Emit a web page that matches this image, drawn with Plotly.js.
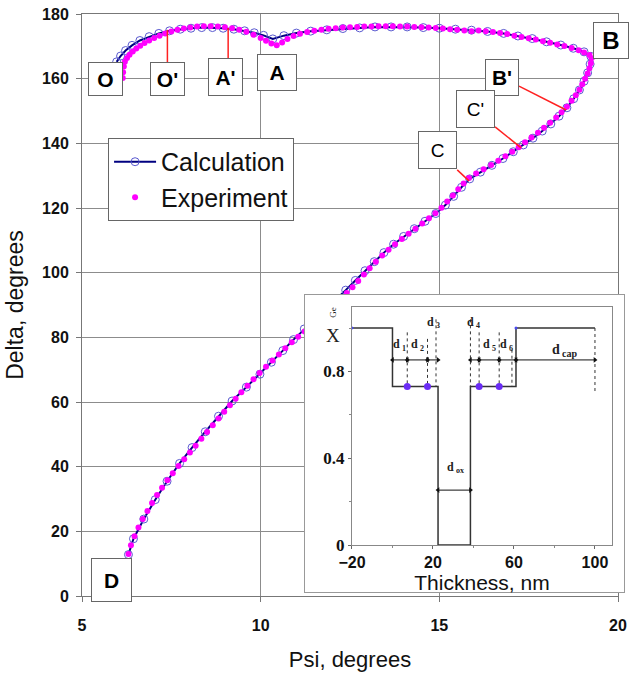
<!DOCTYPE html>
<html>
<head>
<meta charset="utf-8">
<script src="https://cdn.plot.ly/plotly-3.0.1.min.js"></script>
<style>html,body{margin:0;padding:0;background:#fff;}#chart{width:630px;height:675px;}</style>
</head>
<body>
<div id="chart"></div>
<script>
// ---- Main chart data (Psi, Delta in degrees) ----
const psiCalc = [5.97,6.08,6.22,6.40,6.62,6.88,7.15,7.45,7.75,8.05,8.35,8.65,8.95,9.25,9.55,9.82,10.08,10.34,10.65,11.0,11.4,11.85,12.3,12.77,13.2,13.65,14.1,14.55,15.0,15.45,15.9,16.35,16.8,17.2,17.6,18.0,18.4,18.75,19.05,19.24,19.22,19.15,19.05,18.92,18.76,18.57,18.35,18.12,17.88,17.62,17.35,17.07,16.78,16.47,16.15,15.85,15.62,15.40,15.17,14.9,14.6,14.3,14.0,13.72,13.45,13.18,12.92,12.65,12.38,12.1,11.82,11.52,11.22,10.92,10.62,10.3,9.98,9.6,9.2,8.82,8.45,8.08,7.73,7.38,7.05,6.73,6.44,6.30];
const deltaCalc = [165.2,167.0,168.7,170.3,171.8,173.0,174.0,174.8,175.3,175.6,175.8,175.8,175.6,175.3,174.8,174.2,173.4,172.3,173.3,174.1,174.7,175.1,175.5,175.7,176.0,176.0,176.0,175.8,175.6,175.3,175.0,174.6,174.0,173.2,172.4,171.4,170.4,169.4,168.3,166.9,164.5,161.8,159.2,156.5,153.8,151.0,148.4,146.0,143.8,141.6,139.5,137.4,135.3,133.2,131.1,129.0,126.4,123.6,120.9,118.3,115.9,113.6,111.2,108.8,106.2,103.4,100.6,97.6,94.6,91.7,88.8,85.7,82.6,79.3,75.9,72.3,68.6,64.6,60.3,55.6,50.8,45.9,41.0,35.5,29.8,23.8,17.7,12.8];

const psiExp = [6.14,6.15,6.17,6.20,6.26,6.33,6.42,6.52,6.63,6.75,6.88,7.02,7.17,7.33,7.50,7.67,7.85,8.03,8.22,8.41,8.60,8.80,9.0,9.2,9.4,9.6,9.8,10.0,10.15,10.3,10.45,10.6,10.75,10.92,11.1,11.3,11.5,11.7,11.9,12.1,12.3,12.5,12.7,12.9,13.1,13.3,13.5,13.7,13.9,14.1,14.3,14.5,14.7,14.9,15.1,15.3,15.5,15.7,15.9,16.1,16.3,16.5,16.7,16.9,17.1,17.3,17.5,17.7,17.9,18.1,18.3,18.5,18.7,18.9,19.05,19.2,19.26,19.24,19.2,19.15,19.08,19.0,18.92,18.82,18.7,18.57,18.42,18.27,18.1,17.93,17.76,17.58,17.4,17.22,17.04,16.85,16.65,16.45,16.24,16.03,15.83,15.68,15.53,15.38,15.22,15.06,14.89,14.71,14.52,14.33,14.14,13.95,13.76,13.58,13.40,13.22,13.05,12.89,12.73,12.57,12.41,12.25,12.08,11.91,11.74,11.57,11.40,11.23,11.05,10.87,10.69,10.51,10.33,10.15,9.97,9.80,9.63,9.46,9.30,9.14,8.98,8.82,8.66,8.50,8.34,8.18,8.02,7.86,7.70,7.54,7.39,7.24,7.10,6.96,6.83,6.70,6.58,6.47,6.37,6.30];
const deltaExp = [160.2,162.0,163.8,165.2,166.4,167.4,168.4,169.3,170.2,171.0,171.8,172.6,173.3,174.0,174.6,175.1,175.5,175.8,176.1,176.2,176.2,176.1,175.9,175.6,175.1,174.5,173.6,172.6,171.7,170.9,170.3,171.2,172.3,173.2,173.9,174.4,174.8,175.1,175.4,175.6,175.8,175.9,176.0,176.1,176.1,176.2,176.2,176.2,176.1,176.1,176.0,175.9,175.8,175.7,175.5,175.3,175.1,174.9,174.7,174.9,174.7,174.4,174.1,173.8,173.3,172.9,172.5,172.1,171.6,171.1,170.6,170.1,169.5,168.8,168.1,167.3,166.3,164.8,163.2,161.6,160.0,158.3,156.6,154.9,153.2,151.3,149.6,148.0,146.4,144.8,143.3,141.8,140.3,138.8,137.4,136.0,134.6,133.3,132.0,130.7,129.3,127.6,125.8,123.9,122.0,120.1,118.4,116.8,115.2,113.6,112.0,110.4,108.8,107.1,105.3,103.4,101.4,99.4,97.4,95.5,93.7,92.0,90.3,88.6,86.9,85.2,83.5,81.8,80.2,78.5,76.6,74.7,72.8,70.9,69.0,67.0,65.0,63.0,61.0,59.0,57.0,54.9,52.8,50.7,48.6,46.5,44.4,42.3,40.2,38.0,35.8,33.5,31.2,28.8,26.3,23.8,21.2,18.5,15.7,13.0];

// Point labels on the main curve
const pointLabels = ["O","O'","A'","A","B","B'","C'","C","D"];
const labelPsi    = [5.66,7.39,9.02,10.46,19.80,16.76,16.01,14.95,5.83];
const labelDelta  = [159.9,159.9,160.5,161.9,171.8,160.4,150.6,138.0,4.9];
// Red leader lines
const leaderPsi0   = [7.39,9.09,17.23,16.56,15.50];
const leaderDelta0 = [165.0,166.4,157.7,145.1,131.8];
const leaderPsi1   = [7.39,9.09,18.55,17.29,15.83];
const leaderDelta1 = [175.1,175.7,150.3,138.6,128.4];

// ---- Inset data (composition X vs thickness, nm) ----
const thickness   = [-20,0,22.5,38.5,61,100];
const composition = [1,0.73,0,0.73,1,1];
const dotThick = [7.3,17.3,42.8,52.7];
const dotComp  = [0.73,0.73,0.73,0.73];
const cornerThick = [-20,61];
const cornerComp  = [1,1];
const guideX = [7.3,7.3,null,17.3,17.3,null,21.5,21.5,null,38.5,38.5,null,42.8,42.8,null,52.7,52.7,null,59,59,null,100,100];
const guideY = [0.98,0.73,null,0.95,0.73,null,1.04,0.73,null,1.04,0.73,null,0.98,0.73,null,0.98,0.73,null,0.90,0.73,null,1.0,0.70];
const arrowStart = [0,7.3,17.3,38.5,42.8,52.7,61,22.5];
const arrowEnd   = [7.3,17.3,22.5,42.8,52.7,61,100,38.5];
const arrowLevel = [0.853,0.853,0.853,0.853,0.853,0.853,0.853,0.253];
const dSubs  = ["1","2","3","4","5","6","cap","ox"];
const dNameX = [4,13.2,21,40.6,48.6,57.3,83,31];
const dNameY = [0.925,0.925,1.03,1.03,0.925,0.925,0.9,0.36];

// build arrow geometry from the arrays
const arrowLineX = [], arrowLineY = [], headX = [], headY = [], headSym = [];
arrowStart.forEach((s, i) => {
  arrowLineX.push(s, arrowEnd[i], null);
  arrowLineY.push(arrowLevel[i], arrowLevel[i], null);
  headX.push(s, arrowEnd[i]);
  headY.push(arrowLevel[i], arrowLevel[i]);
  headSym.push('triangle-left', 'triangle-right');
});

const traces = [
  {x: psiCalc, y: deltaCalc, type: 'scatter', mode: 'lines+markers', name: 'Calculation',
   line: {color: '#000080', width: 2},
   marker: {symbol: 'circle-open', size: 8, color: '#5a5ad0', line: {width: 1}}},
  {x: psiExp, y: deltaExp, type: 'scatter', mode: 'markers', name: 'Experiment',
   marker: {color: '#ff00ff', size: 6}},
  // cover panel (frame of the inset)
  {x: [null], y: [null], xaxis: 'x2', yaxis: 'y2', type: 'scatter', mode: 'markers', showlegend: false, hoverinfo: 'skip'},
  // inset
  {x: thickness, y: composition, xaxis: 'x3', yaxis: 'y3', type: 'scatter', mode: 'lines', showlegend: false,
   line: {shape: 'hv', color: '#333', width: 1.5}},
  {x: guideX, y: guideY, xaxis: 'x3', yaxis: 'y3', type: 'scatter', mode: 'lines', showlegend: false,
   line: {dash: 'dot', color: '#333', width: 1}},
  {x: arrowLineX, y: arrowLineY, xaxis: 'x3', yaxis: 'y3', type: 'scatter', mode: 'lines', showlegend: false,
   line: {color: '#111', width: 1}},
  {x: headX, y: headY, xaxis: 'x3', yaxis: 'y3', type: 'scatter', mode: 'markers', showlegend: false,
   marker: {symbol: headSym, size: 5, color: '#111'}},
  {x: dotThick, y: dotComp, xaxis: 'x3', yaxis: 'y3', type: 'scatter', mode: 'markers', showlegend: false,
   marker: {color: '#6a2cf5', size: 7}},
  {x: cornerThick, y: cornerComp, xaxis: 'x3', yaxis: 'y3', type: 'scatter', mode: 'markers', showlegend: false,
   marker: {color: '#4a4af0', size: 3}}
];

const boldLabel = {"O":1,"O'":1,"A'":1,"A":1,"B":1,"B'":1,"D":1};
const labelSize = {"B":24,"C":19,"C'":19};
const boxW = {"O":31,"O'":31,"A'":31,"A":36,"B":32,"B'":30,"C'":35,"C":35,"D":37};
const boxH = {"O":30,"O'":30,"A'":34,"A":33,"B":33,"B'":33,"C'":34,"C":34,"D":40};

const annotations = [];
pointLabels.forEach((t, i) => {
  annotations.push({
    x: labelPsi[i], y: labelDelta[i], xref: 'x', yref: 'y', text: t, showarrow: false,
    font: {family: 'Liberation Sans, Arial, sans-serif', size: labelSize[t] || 21, color: '#000',
           weight: boldLabel[t] ? 'bold' : 'normal'},
    bgcolor: '#fff', bordercolor: '#666', borderwidth: 1, borderpad: 1,
    width: boxW[t], height: boxH[t], xanchor: 'center', yanchor: 'middle'
  });
});
const serifFont = 'Liberation Serif, Times New Roman, serif';
dSubs.forEach((s, i) => {
  const big = (s === 'cap');
  annotations.push({
    x: dNameX[i], y: dNameY[i], xref: 'x3', yref: 'y3', text: 'd', showarrow: false,
    xanchor: 'right', yanchor: 'middle', borderpad: 0,
    font: {family: serifFont, size: big ? 14 : 12, color: '#222', weight: 'bold'}
  });
  annotations.push({
    x: dNameX[i], y: dNameY[i], xref: 'x3', yref: 'y3', text: s, showarrow: false,
    xanchor: 'left', yanchor: 'middle', yshift: -4, borderpad: 0,
    font: {family: serifFont, size: big ? 10 : 8, color: '#222', weight: 'bold'}
  });
});
annotations.push({x: 0.462, y: 0.448, xref: 'paper', yref: 'paper', text: 'X', showarrow: false,
  font: {family: serifFont, size: 19, color: '#222'}});
annotations.push({x: 0.462, y: 0.488, xref: 'paper', yref: 'paper', text: 'Ge', showarrow: false, textangle: -90,
  font: {family: serifFont, size: 9, color: '#222'}});

const shapes = leaderPsi0.map((p, i) => ({
  type: 'line', xref: 'x', yref: 'y', x0: p, y0: leaderDelta0[i], x1: leaderPsi1[i], y1: leaderDelta1[i],
  line: {color: '#ff2020', width: 1.5}, layer: 'above'
}));

const tickFontMain = {family: 'Liberation Sans, Arial, sans-serif', size: 16, color: '#111', weight: 'bold'};
const titleFont = {family: 'Liberation Sans, Arial, sans-serif', size: 22, color: '#111'};

const layout = {
  width: 630, height: 675,
  margin: {l: 82, r: 5, t: 14, b: 79},
  paper_bgcolor: '#fff', plot_bgcolor: '#fff',
  showlegend: true,
  legend: {x: 0.048, y: 0.787, xanchor: 'left', yanchor: 'top', bgcolor: '#fff', bordercolor: '#666', borderwidth: 1,
    font: {family: 'Liberation Sans, Arial, sans-serif', size: 25, color: '#111'}, tracegroupgap: 0, itemwidth: 42},
  xaxis: {domain: [0, 0.9871], range: [5, 20], tick0: 5, dtick: 5, showgrid: true, gridcolor: '#8c8c8c', gridwidth: 1,
    zeroline: false, showline: true, mirror: true, linecolor: '#777', ticks: 'outside', ticklen: 5, tickcolor: '#777',
    tickfont: tickFontMain, ticklabelstandoff: 10,
    title: {text: 'Psi, degrees', font: titleFont, standoff: 18}},
  yaxis: {domain: [0, 1], range: [0, 180], tick0: 0, dtick: 20, showgrid: true, gridcolor: '#8c8c8c', gridwidth: 1,
    zeroline: false, showline: true, mirror: true, linecolor: '#777', ticks: 'outside', ticklen: 5, tickcolor: '#777',
    tickfont: tickFontMain, ticklabelstandoff: 4,
    title: {text: 'Delta, degrees', font: {family: 'Liberation Sans, Arial, sans-serif', size: 23, color: '#111'}, standoff: 12}},
  xaxis2: {domain: [0.4107, 0.998], anchor: 'y2', range: [0, 1], showgrid: false, zeroline: false, showticklabels: false,
    ticks: '', tickvals: [], showline: true, mirror: true, linecolor: '#999', linewidth: 1},
  yaxis2: {domain: [0.0069, 0.5172], anchor: 'x2', range: [0, 1], showgrid: false, zeroline: false, showticklabels: false,
    ticks: '', tickvals: [], showline: true, mirror: true, linecolor: '#999', linewidth: 1},
  xaxis3: {domain: [0.4972, 0.976], anchor: 'y3', range: [-20, 108.4], tick0: -20, dtick: 40, showgrid: false, zeroline: false,
    showline: true, mirror: true, linecolor: '#888', ticks: 'outside', ticklen: 3, tickcolor: '#666',
    minor: {dtick: 20, ticks: 'outside', ticklen: 2, tickcolor: '#888'},
    tickfont: {family: 'Liberation Sans, Arial, sans-serif', size: 16, color: '#111', weight: 'bold'},
    title: {text: 'Thickness, nm', font: {family: 'Liberation Sans, Arial, sans-serif', size: 21, color: '#111'}, standoff: 0}},
  yaxis3: {domain: [0.0876, 0.4966], anchor: 'x3', range: [0, 1.097], tick0: 0, dtick: 0.4, showgrid: false, zeroline: false,
    showline: true, mirror: true, linecolor: '#888', ticks: 'outside', ticklen: 3, tickcolor: '#666',
    minor: {dtick: 0.2, ticks: 'outside', ticklen: 2, tickcolor: '#888'},
    tickfont: {family: serifFont, size: 17, color: '#111', weight: 'bold'}},
  annotations: annotations,
  shapes: shapes
};

Plotly.newPlot('chart', traces, layout, {displayModeBar: false, staticPlot: true});
</script>
</body>
</html>
